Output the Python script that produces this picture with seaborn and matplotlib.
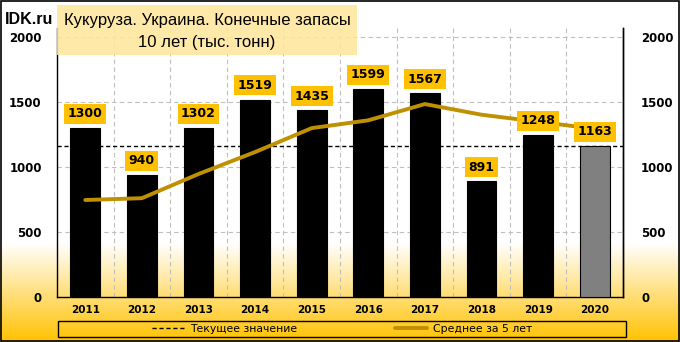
import numpy as np
import pandas as pd
import matplotlib
matplotlib.use("Agg")
import matplotlib.pyplot as plt
from matplotlib.lines import Line2D
from matplotlib.patches import Rectangle
import seaborn as sns

# ---- data ----
years = ["2011", "2012", "2013", "2014", "2015", "2016", "2017", "2018", "2019", "2020"]
stocks = [1300, 940, 1302, 1519, 1435, 1599, 1567, 891, 1248, 1163]
avg5 = [746, 760, 946, 1115, 1299, 1359, 1484, 1402, 1348, 1294]
yticks = [0, 500, 1000, 1500, 2000]
title1 = "Кукуруза. Украина. Конечные запасы"
title2 = "10 лет (тыс. тонн)"
legend_labels = ["Текущее значение", "Среднее за 5 лет"]

sns.set_theme(style="white")
plt.rcParams["font.family"] = ["DejaVu Sans"]
plt.rcParams["text.color"] = "black"
plt.rcParams["xtick.color"] = "black"
plt.rcParams["ytick.color"] = "black"
plt.rcParams["axes.labelcolor"] = "black"

W, H = 680, 342
fig = plt.figure(figsize=(W / 100, H / 100), dpi=100)

# background gradient
bg = fig.add_axes([0, 0, 1, 1], zorder=-10)
bg.set_axis_off()
ys = np.linspace(0, 1, 342)
t = np.clip((ys * 342 - 243) / (342 - 243), 0, 1)
top = np.array([1, 1, 1])
bot = np.array([1, 0.76, 0.0])
grad = top[None, :] * (1 - t[:, None]) + bot[None, :] * t[:, None]
bg.imshow(grad[:, None, :], aspect="auto", extent=[0, 1, 1, 0])
bg.set_xlim(0, 1)
bg.set_ylim(1, 0)
bg.add_patch(Rectangle((0.0008, 0.0015), 0.998, 0.996, fill=False, ec="black", lw=1.2,
                       transform=bg.transAxes))

ax = fig.add_axes([57 / W, (H - 297) / H, (623 - 57) / W, (297 - 28) / H])
ax.patch.set_alpha(0)

df = pd.DataFrame({"year": years, "value": stocks})
colors = ["black"] * (len(years) - 1) + ["#808080"]
sns.barplot(data=df, x="year", y="value", hue="year", palette=colors, legend=False,
            width=0.53, edgecolor="black", linewidth=0.8, ax=ax, zorder=3)

# current value dashed line
ax.axhline(stocks[-1], color="black", lw=1.0, ls=(0, (3, 2)), zorder=2)

# 5-year average
sns.lineplot(x=np.arange(len(years)), y=avg5, color="#BF9000", lw=2.8, ax=ax, zorder=4)

# value labels
for i, v in enumerate(stocks):
    ax.annotate(str(v), xy=(i, v), xytext=(0, 5.5), textcoords="offset points",
                ha="center", va="bottom", fontsize=9, fontweight="bold", color="black",
                bbox=dict(boxstyle="square,pad=0.28", fc="#FFC000", ec="none"), zorder=6)

ax.set_xlim(-0.5, 9.5)
ax.set_ylim(0, 2069)
ax.set_yticks(yticks)
ax.set_yticklabels([str(v) for v in yticks], fontsize=8.5, fontweight="bold", color="black")
ax.set_xticks(range(len(years)))
ax.set_xticklabels(years, fontsize=7.5, fontweight="bold", color="black")
ax.set_xlabel("")
ax.set_ylabel("")
ax.tick_params(axis="y", length=0, pad=11)
ax.tick_params(axis="x", length=0, pad=6)
ax.set_xticks(np.arange(0.5, 9.5, 1), minor=True)
ax.grid(False)
ax.grid(True, axis="y", which="major", color="#BFBFBF", ls=(0, (4, 3)), lw=0.8, zorder=0)
ax.grid(True, axis="x", which="minor", color="#BFBFBF", ls=(0, (4, 3)), lw=0.8, zorder=0)
ax.tick_params(axis="x", which="minor", length=0)
for s in ["left", "right", "bottom"]:
    ax.spines[s].set_visible(True)
    ax.spines[s].set_color("black")
    ax.spines[s].set_linewidth(1.0)
ax.spines["top"].set_visible(False)

ax2 = ax.twinx()
ax2.set_ylim(ax.get_ylim())
ax2.set_yticks(yticks)
ax2.set_yticklabels([str(v) for v in yticks], fontsize=8.5, fontweight="bold", color="black")
ax2.tick_params(axis="y", length=0, pad=13)
ax2.grid(False)
for s in ["left", "top", "bottom"]:
    ax2.spines[s].set_visible(False)
ax2.spines["right"].set_color("black")
ax2.spines["right"].set_linewidth(1.0)

# title box
fig.patches.append(Rectangle((57 / W, (H - 55) / H), 300 / W, 50 / H, transform=fig.transFigure,
                             fc="#FFE699", ec="none", alpha=0.85, zorder=5))
fig.text(207 / W, 1 - 20 / H, title1, ha="center", va="center", fontsize=12,
         family="Liberation Sans", color="black", zorder=6)
fig.text(207 / W, 1 - 42 / H, title2, ha="center", va="center", fontsize=12,
         family="Liberation Sans", color="black", zorder=6)
fig.text(5 / W, 1 - 20 / H, "IDK.ru", ha="left", va="center", fontsize=11.5,
         fontweight="bold", family="Liberation Sans", color="black", zorder=6)

# legend
fig.patches.append(Rectangle((58 / W, 5 / H), 568 / W, 16 / H, transform=fig.transFigure,
                             fill=False, ec="black", lw=1.0, zorder=5))
handles = [Line2D([], [], color="black", lw=1.0, ls=(0, (3, 2))),
           Line2D([], [], color="#BF9000", lw=2.8)]
leg = fig.legend(handles, legend_labels, loc="center", bbox_to_anchor=(342 / W, 13 / H),
                 ncol=2, frameon=False, fontsize=7.8, handlelength=3.0, handletextpad=0.5,
                 columnspacing=9.0, borderpad=0, borderaxespad=0)
for txt in leg.get_texts():
    txt.set_color("black")

fig.savefig("out.png", dpi=100)
